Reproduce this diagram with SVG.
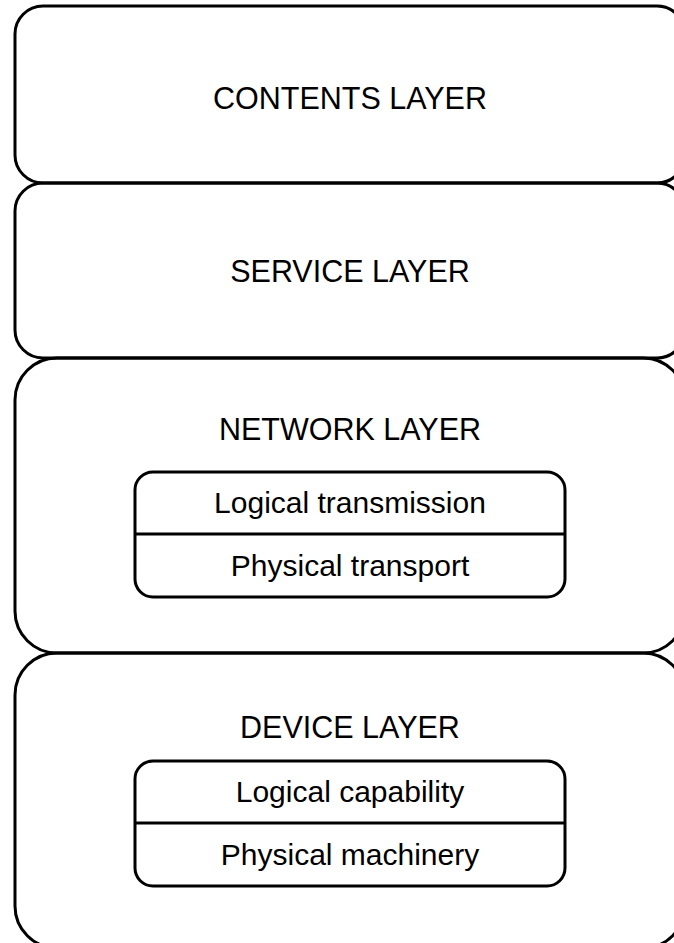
<svg xmlns="http://www.w3.org/2000/svg" width="674" height="943" viewBox="0 0 674 943">
<style>
.outer{fill:none;stroke:#000;stroke-width:3}
.inner{fill:#fff;stroke:#000;stroke-width:3}
.div{stroke:#000;stroke-width:3}
text{font-family:"Liberation Sans",Arial,Helvetica,sans-serif;font-size:30px;fill:#000;text-anchor:middle}
.title{font-size:30.5px}
</style>
<rect width="674" height="943" fill="#fff"/>
<g id="contents-layer">
<rect class="outer" x="15" y="6" width="670" height="177" rx="28" ry="28"/>
<text class="title" x="350" y="109">CONTENTS LAYER</text>
</g>
<g id="service-layer">
<rect class="outer" x="15" y="183" width="670" height="175" rx="28" ry="28"/>
<text class="title" x="350" y="282">SERVICE LAYER</text>
</g>
<g id="network-layer">
<rect class="outer" x="15" y="358" width="670" height="295" rx="42" ry="42"/>
<text class="title" x="350" y="440">NETWORK LAYER</text>
</g>
<g id="network-sub">
<rect class="inner" x="135" y="472" width="430" height="125" rx="18" ry="18"/>
<line class="div" x1="135" y1="534" x2="565" y2="534"/>
<text x="350" y="513">Logical transmission</text>
<text x="350" y="576">Physical transport</text>
</g>
<g id="device-layer">
<rect class="outer" x="15" y="653" width="670" height="295" rx="42" ry="42"/>
<text class="title" x="350" y="738">DEVICE LAYER</text>
</g>
<g id="device-sub">
<rect class="inner" x="135" y="761" width="430" height="125" rx="18" ry="18"/>
<line class="div" x1="135" y1="823" x2="565" y2="823"/>
<text x="350" y="802">Logical capability</text>
<text x="350" y="865">Physical machinery</text>
</g>
<g id="connectors"></g>
</svg>
